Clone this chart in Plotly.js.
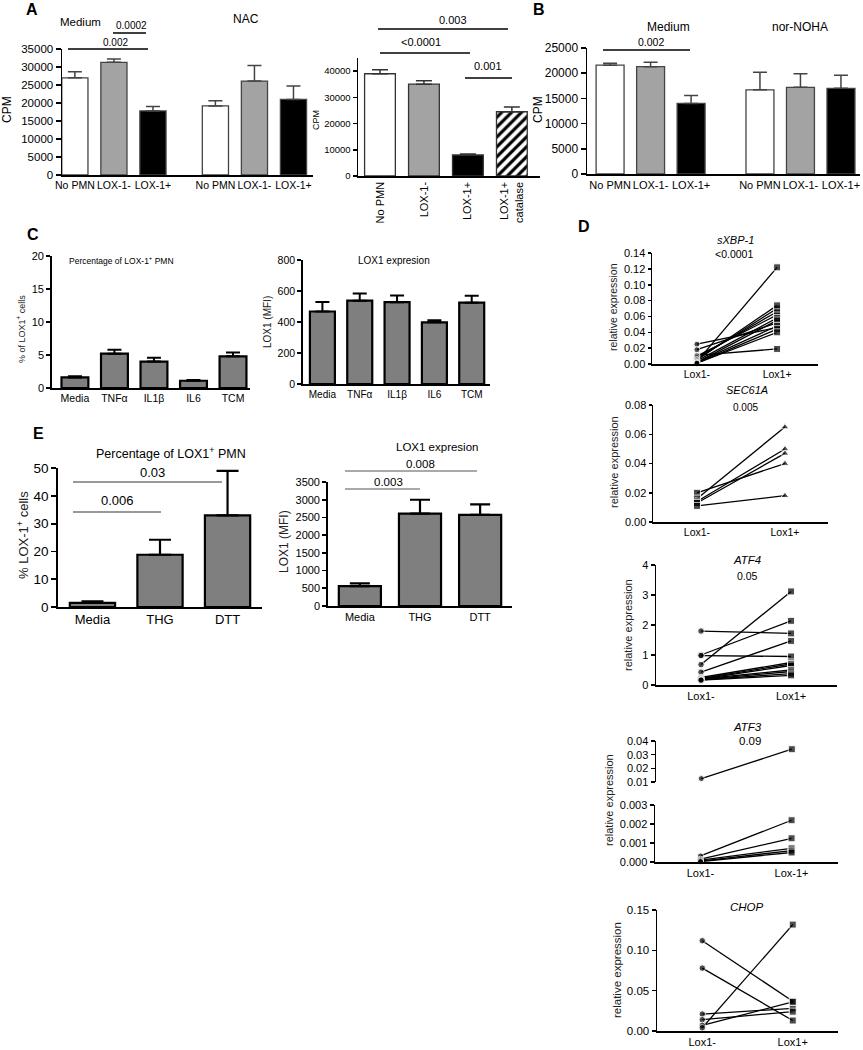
<!DOCTYPE html>
<html><head><meta charset="utf-8">
<script src="https://cdn.plot.ly/plotly-3.0.1.min.js"></script>
<style>html,body{margin:0;padding:0;background:#fff}#chart{width:863px;height:1050px}</style>
</head><body><div id="chart"></div>
<script>
// ---------------- DATA ----------------
const aCats = ["No PMN", "LOX-1-", "LOX-1+"];
const aMedium = [27000, 31300, 17800];
const aMediumErr = [1700, 900, 1200];
const aNAC = [19200, 26100, 21000];
const aNACErr = [1400, 4300, 3700];

const a2Cats = ["No PMN", "LOX-1-", "LOX-1+", "LOX-1+<br>catalase"];
const a2Vals = [39000, 35000, 8000, 24500];
const a2Err = [1500, 1300, 400, 1800];

const bCats = ["No PMN", "LOX-1-", "LOX-1+"];
const bMedium = [21600, 21300, 14000];
const bMediumErr = [400, 900, 1600];
const bNor = [16700, 17200, 17000];
const bNorErr = [3500, 2700, 2600];

const cCats = ["Media", "TNFα", "IL1β", "IL6", "TCM"];
const cPct = [1.6, 5.2, 4.0, 1.1, 4.8];
const cPctErr = [0.2, 0.6, 0.6, 0.1, 0.6];
const cMfi = [468, 538, 528, 398, 525];
const cMfiErr = [62, 47, 44, 13, 45];

const eCats = ["Media", "THG", "DTT"];
const ePct = [1.5, 18.8, 33];
const ePctErr = [0.5, 5.4, 16];
const eMfi = [560, 2610, 2570];
const eMfiErr = [80, 390, 300];

const dCats = ["Lox1-", "Lox1+"];
const dCatsAtf3 = ["Lox1-", "Lox-1+"];
const xbpMinus = [0.025, 0.018, 0.011, 0.010, 0.008, 0.006, 0.005, 0.004, 0.003, 0.002, 0.002, 0.001, 0.001];
const xbpPlus  = [0.046, 0.052, 0.019, 0.062, 0.066, 0.070, 0.074, 0.058, 0.122, 0.055, 0.048, 0.044, 0.040];
const secMinus = [0.020, 0.016, 0.014, 0.013, 0.011];
const secPlus  = [0.040, 0.065, 0.050, 0.047, 0.018];
const atf4Minus = [1.8, 1.0, 0.98, 0.68, 0.43, 0.25, 0.22, 0.2, 0.2, 0.18, 0.17, 0.16];
const atf4Plus  = [1.72, 2.14, 0.95, 3.12, 1.47, 0.75, 0.70, 0.65, 0.5, 0.45, 0.38, 0.32];
const atf3HighMinus = [0.0125];
const atf3HighPlus = [0.034];
const atf3LowMinus = [0.00032, 0.00015, 0.0001, 0.00005, 0.00002];
const atf3LowPlus  = [0.0022, 0.00125, 0.00072, 0.0006, 0.0005];
const chopMinus = [0.112, 0.078, 0.021, 0.014, 0.007, 0.004];
const chopPlus  = [0.037, 0.013, 0.028, 0.024, 0.036, 0.132];

// ---------------- LAYOUT HELPERS ----------------
const W = 863, H = 1050;
const FONT = '"Liberation Sans", Arial, Helvetica, sans-serif';
const PX = p => p / W, PY = p => 1 - p / H;
const layout = {
  width: W, height: H, margin: {l: 0, r: 0, t: 0, b: 0}, showlegend: false,
  paper_bgcolor: '#fff', plot_bgcolor: 'rgba(0,0,0,0)',
  font: {family: FONT, color: '#111'}, annotations: [], shapes: []
};
const traces = [];
let n = 0;
function panel(c) {
  n++;
  const s = n === 1 ? '' : String(n);
  const xr = 'x' + s, yr = 'y' + s;
  layout['xaxis' + s] = {
    domain: [PX(c.x0), PX(c.x1)], range: c.xr, anchor: yr,
    showline: c.xline !== false, linecolor: '#000', linewidth: c.lw,
    ticks: '', tickmode: 'array', tickvals: c.tv || [], ticktext: c.tt || [],
    showticklabels: !!c.tv, tickangle: c.xang || 0,
    tickfont: {size: c.xfs || 11, color: '#000', family: FONT},
    showgrid: false, zeroline: false, fixedrange: true, automargin: false
  };
  layout['yaxis' + s] = {
    domain: [PY(c.y1), PY(c.y0)], range: c.yr, anchor: xr,
    showline: true, linecolor: '#000', linewidth: c.lw,
    ticks: 'outside', ticklen: c.tl || 4, tickwidth: c.lw, tickcolor: '#000',
    tickmode: 'linear', tick0: c.t0 || 0, dtick: c.dt, tickformat: c.tf || 'd',
    tickfont: {size: c.yfs || 11, color: '#000', family: FONT},
    showgrid: false, zeroline: false, fixedrange: true, automargin: false
  };
  return {xaxis: xr, yaxis: yr};
}
function txt(x, y, text, size, o) {
  o = o || {};
  layout.annotations.push(Object.assign({
    xref: 'paper', yref: 'paper', x: PX(x), y: PY(y), text: text, showarrow: false,
    xanchor: 'center', yanchor: 'middle', font: {size: size, family: FONT, color: o.color || '#000'}
  }, o.extra || {}));
}
function ytitle(x, y, text, size, color) {
  txt(x, y, text, size, {color: color || '#000', extra: {textangle: -90}});
}
function hline(x0, x1, y, w, color) {
  layout.shapes.push({type: 'line', xref: 'paper', yref: 'paper', x0: PX(x0), x1: PX(x1), y0: PY(y), y1: PY(y),
    line: {color: color || '#000', width: w || 1.5}});
}
function bars(ax, xs, ys, err, colors, width, lc, lw, ec, et, ew, pattern) {
  const tr = Object.assign({
    type: 'bar', x: xs, y: ys, width: width,
    marker: {color: colors, line: {color: lc, width: lw}},
    error_y: {type: 'data', symmetric: false, array: err, arrayminus: err.map(() => 0),
      color: ec, thickness: et, width: ew},
    hoverinfo: 'skip'
  }, ax);
  if (pattern) tr.marker.pattern = pattern;
  traces.push(tr);
}
function pairs(ax, minus, plus, symM, symP, szM, szP) {
  const x = [], y = [], sym = [], sz = [];
  minus.forEach((m, i) => {
    x.push(0, 1, null); y.push(m, plus[i], null);
    sym.push(symM, symP, symM); sz.push(szM, szP, 0);
  });
  traces.push(Object.assign({
    type: 'scatter', mode: 'lines+markers', x: x, y: y, connectgaps: false, cliponaxis: false,
    line: {color: '#000', width: 1.3}, marker: {symbol: sym, size: sz, color: '#000'}, hoverinfo: 'skip'
  }, ax));
}
const idx = arr => arr.map((_, i) => i);

// ---------------- PANEL A (left) ----------------
const aPosMed = idx(aCats), aPosNac = idx(aCats).map(i => i + 3.6);
const pA = panel({x0: 62, x1: 313, y0: 49, y1: 175, xr: [-0.33, 6.1], yr: [0, 35010], dt: 5000,
  tv: aPosMed.concat(aPosNac), tt: aCats.concat(aCats), lw: 1.5, tl: 5, yfs: 11.5, xfs: 10.5});
const aColors = ['#ffffff', '#a3a3a3', '#000000'];
bars(pA, aPosMed, aMedium, aMediumErr, aColors, 0.67, '#444', 1.3, '#444', 1.5, 7);
bars(pA, aPosNac, aNAC, aNACErr, aColors, 0.67, '#444', 1.3, '#444', 1.5, 7);
txt(32, 10, '<b>A</b>', 16);
ytitle(7, 110, 'CPM', 12);
txt(80, 22, 'Medium', 11.5);
txt(246, 19, 'NAC', 12);
txt(131, 25, '0.0002', 10);
hline(113, 146, 33, 1.5);
txt(115.5, 42, '0.002', 10);
hline(68, 148, 49, 1.5);

// ---------------- PANEL A (right) ----------------
const pA2 = panel({x0: 358, x1: 540, y0: 58, y1: 176, xr: [-0.5, 3.64], yr: [0, 45000], dt: 10000,
  tv: idx(a2Cats), tt: a2Cats, xang: -90, lw: 1.5, tl: 4, yfs: 9.5, xfs: 11});
const a2Pos = idx(a2Cats);
const a2Plain = a2Pos.slice(0, 3), a2Hatch = a2Pos.slice(3);
bars(pA2, a2Plain, a2Plain.map(i => a2Vals[i]), a2Plain.map(i => a2Err[i]),
  ['#ffffff', '#a3a3a3', '#000000'], 0.7, '#333', 1.3, '#333', 1.5, 8);
bars(pA2, a2Hatch, a2Hatch.map(i => a2Vals[i]), a2Hatch.map(i => a2Err[i]),
  '#ffffff', 0.7, '#333', 1.3, '#333', 1.5, 8,
  {shape: '/', fgcolor: '#000000', bgcolor: '#ffffff', fgopacity: 1, size: 7, solidity: 0.45, fillmode: 'replace'});
ytitle(316, 120, 'CPM', 9);
txt(453, 20, '0.003', 11);
hline(378, 508, 29, 1.5);
txt(421, 42, '<0.0001', 11);
hline(380, 470, 53, 1.5);
txt(488, 66, '0.001', 11);
hline(465, 512, 78, 1.5);

// ---------------- PANEL B ----------------
const bPosMed = idx(bCats), bPosNor = idx(bCats).map(i => i + 3.7);
const pB = panel({x0: 587, x1: 860, y0: 48, y1: 174, xr: [-0.57, 6.17], yr: [0, 25010], dt: 5000,
  tv: bPosMed.concat(bPosNor), tt: bCats.concat(bCats), lw: 1.5, tl: 5, yfs: 12, xfs: 11});
bars(pB, bPosMed, bMedium, bMediumErr, aColors, 0.69, '#444', 1.3, '#444', 1.5, 7);
bars(pB, bPosNor, bNor, bNorErr, aColors, 0.69, '#444', 1.3, '#444', 1.5, 7);
txt(539, 10, '<b>B</b>', 16);
ytitle(538, 110, 'CPM', 12);
txt(668, 27, 'Medium', 12);
txt(800, 27, 'nor-NOHA', 12);
txt(651, 42, '0.002', 10.5);
hline(603, 690, 50, 1.5);

// ---------------- PANEL C (left) ----------------
const pC = panel({x0: 52, x1: 250, y0: 256, y1: 388, xr: [-0.58, 4.43], yr: [0, 20.01], dt: 5,
  tv: idx(cCats), tt: cCats, lw: 1.8, tl: 4, yfs: 11, xfs: 10.5});
bars(pC, idx(cCats), cPct, cPctErr, '#7f7f7f', 0.68, '#000', 2.2, '#000', 2, 7);
txt(33, 234, '<b>C</b>', 16);
ytitle(21, 329, '% of LOX1<sup>+</sup> cells', 9, '#222');
txt(121, 260, 'Percentage of LOX-1<sup>+</sup> PMN', 8.5);

// ---------------- PANEL C (right) ----------------
const pC2 = panel({x0: 303, x1: 490, y0: 260, y1: 384, xr: [-0.52, 4.49], yr: [0, 800.5], dt: 200,
  tv: idx(cCats), tt: cCats, lw: 1.8, tl: 4, yfs: 10.5, xfs: 10});
bars(pC2, idx(cCats), cMfi, cMfiErr, '#7f7f7f', 0.67, '#000', 2.2, '#000', 2, 7);
ytitle(267, 322, 'LOX1 (MFI)', 10, '#222');
txt(394, 260, 'LOX1 expresion', 10);

// ---------------- PANEL E (left) ----------------
const pE = panel({x0: 58, x1: 262, y0: 468, y1: 607, xr: [-0.51, 2.51], yr: [0, 50.02], dt: 10,
  tv: idx(eCats), tt: eCats, lw: 1.8, tl: 5, yfs: 13.5, xfs: 13});
bars(pE, idx(eCats), ePct, ePctErr, '#7f7f7f', 0.67, '#000', 2.2, '#000', 2.2, 11);
txt(38, 433, '<b>E</b>', 16);
ytitle(23, 535, '% LOX-1<sup>+</sup> cells', 13, '#222');
txt(171, 453, 'Percentage of LOX1<sup>+</sup> PMN', 12.5);
txt(152, 472, '0.03', 13);
hline(73, 222, 482, 1, '#333');
txt(117, 500, '0.006', 13);
hline(73, 161, 512, 1, '#333');

// ---------------- PANEL E (right) ----------------
const pE2 = panel({x0: 328, x1: 512, y0: 482, y1: 606, xr: [-0.53, 2.53], yr: [0, 3501], dt: 500,
  tv: idx(eCats), tt: eCats, lw: 1.8, tl: 4, yfs: 11, xfs: 11});
bars(pE2, idx(eCats), eMfi, eMfiErr, '#7f7f7f', 0.7, '#000', 2.2, '#000', 2.2, 10);
ytitle(284, 542, 'LOX1 (MFI)', 12, '#222');
txt(437, 447, 'LOX1 expresion', 11.5);
txt(420, 464, '0.008', 11.5);
hline(345, 477, 471, 1, '#555');
txt(388, 482, '0.003', 11.5);
hline(345, 420, 489, 1, '#555');

// ---------------- PANEL D ----------------
txt(584, 227, '<b>D</b>', 16);
// sXBP-1
const pD1 = panel({x0: 652, x1: 818, y0: 253, y1: 364, xr: [-0.56, 1.51], yr: [0, 0.1401], dt: 0.02, tf: '.2f',
  tv: [0, 1], tt: dCats, lw: 1.5, tl: 3, yfs: 11, xfs: 10.5});
pairs(pD1, xbpMinus, xbpPlus, 'circle', 'square', 6, 7);
ytitle(613, 307, 'relative expression', 10.5, '#222');
txt(735, 240, '<i>sXBP-1</i>', 11);
txt(734, 254, '<0.0001', 10.5);
// SEC61A
const pD2 = panel({x0: 653, x1: 828, y0: 405, y1: 522, xr: [-0.5, 1.49], yr: [0, 0.0801], dt: 0.02, tf: '.2f',
  tv: [0, 1], tt: dCats, lw: 1.5, tl: 3, yfs: 11, xfs: 10.5});
pairs(pD2, secMinus, secPlus, 'square', 'triangle-up', 7, 7);
ytitle(614, 462, 'relative expression', 11, '#222');
txt(747, 390, '<i>SEC61A</i>', 11);
txt(745, 407, '0.005', 10);
// ATF4
const pD3 = panel({x0: 656, x1: 837, y0: 565, y1: 685, xr: [-0.5, 1.51], yr: [0, 4.002], dt: 1, tf: 'd',
  tv: [0, 1], tt: dCats, lw: 1.5, tl: 4, yfs: 11, xfs: 11});
pairs(pD3, atf4Minus, atf4Plus, 'circle', 'square', 6.5, 7);
ytitle(628, 625, 'relative expression', 11, '#222');
txt(747, 560, '<i>ATF4</i>', 11.5);
txt(747, 576, '0.05', 10.5);
// ATF3 (broken axis)
const pD4a = panel({x0: 656, x1: 838, y0: 741, y1: 782, xr: [-0.5, 1.51], yr: [0.00999, 0.04002], t0: 0.01, dt: 0.01, tf: '.2f',
  xline: false, lw: 1.5, tl: 4, yfs: 11});
pairs(pD4a, atf3HighMinus, atf3HighPlus, 'circle', 'square', 6, 7);
const pD4b = panel({x0: 655, x1: 838, y0: 805, y1: 862, xr: [-0.5, 1.51], yr: [0, 0.003003], dt: 0.001, tf: '.3f',
  tv: [0, 1], tt: dCatsAtf3, lw: 1.5, tl: 4, yfs: 11, xfs: 11});
pairs(pD4b, atf3LowMinus, atf3LowPlus, 'circle', 'square', 6, 7);
ytitle(609, 800, 'relative expression', 11, '#222');
txt(747.5, 727, '<i>ATF3</i>', 11.5);
txt(750, 741, '0.09', 11.5);
// CHOP
const pD5 = panel({x0: 657, x1: 838, y0: 910, y1: 1031, xr: [-0.5, 1.5], yr: [0, 0.1501], dt: 0.05, tf: '.2f',
  tv: [0, 1], tt: dCats, lw: 1.5, tl: 4, yfs: 11.5, xfs: 11});
pairs(pD5, chopMinus, chopPlus, 'circle', 'square', 6.5, 7);
ytitle(617, 970, 'relative expression', 11.5, '#222');
txt(747, 907, '<i>CHOP</i>', 11.5);

Plotly.newPlot('chart', traces, layout, {staticPlot: true, displayModeBar: false});
</script>
</body></html>
